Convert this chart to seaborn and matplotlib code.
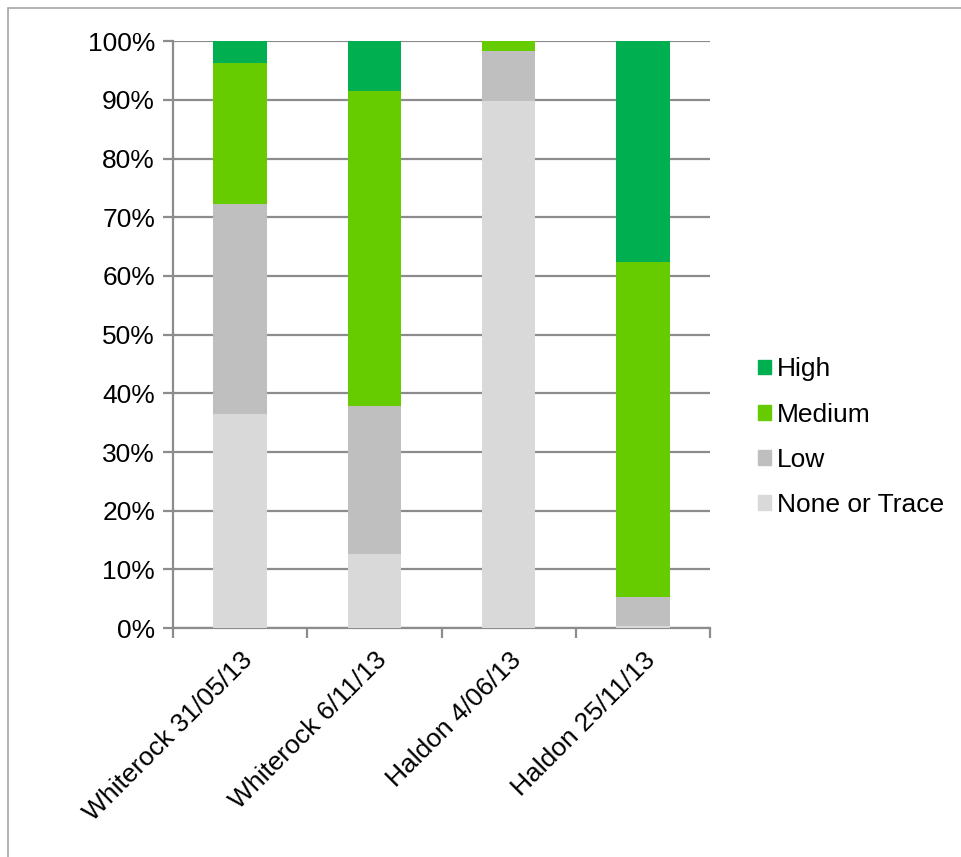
import pandas as pd
import matplotlib.pyplot as plt
import seaborn as sns
from matplotlib.patches import Rectangle, Patch
from matplotlib.ticker import PercentFormatter

# values (percent of each sample)
sites = ['Whiterock 31/05/13', 'Whiterock 6/11/13', 'Haldon 4/06/13', 'Haldon 25/11/13']
none_trace = [36.5, 12.6, 89.8, 0.4]
low = [35.8, 25.2, 8.5, 4.9]
medium = [24.0, 53.7, 1.7, 57.0]
high = [3.7, 8.5, 0.0, 37.7]

levels = ['None or Trace', 'Low', 'Medium', 'High']
colours = {'High': '#00B050', 'Medium': '#66CC00', 'Low': '#BFBFBF', 'None or Trace': '#D9D9D9'}

df = pd.DataFrame({'site': sites, 'None or Trace': none_trace, 'Low': low,
                   'Medium': medium, 'High': high})
# running totals so the bars can be laid over each other, tallest first
cum = df[levels].cumsum(axis=1)
cum['site'] = df['site']

sns.set_style('white')
plt.rcParams['font.family'] = ['Liberation Sans', 'DejaVu Sans']
plt.rcParams['text.color'] = 'black'
plt.rcParams['xtick.labelcolor'] = 'black'
plt.rcParams['ytick.labelcolor'] = 'black'

fig = plt.figure(figsize=(9.62, 8.57), dpi=100)
ax = fig.add_axes([0.18, 0.267, 0.558, 0.685])

for lvl in reversed(levels):
    sns.barplot(data=cum, x='site', y=lvl, color=colours[lvl], width=0.4,
                saturation=1, ax=ax, zorder=3, edgecolor='none')

ax.set_ylim(0, 100)
ax.set_xlim(-0.5, 3.5)
ax.set_yticks(range(0, 101, 10))
ax.yaxis.set_major_formatter(PercentFormatter(decimals=0))
ax.yaxis.grid(True, color='#8C8C8C', linewidth=1.6, zorder=0)
ax.set_axisbelow(True)
ax.set_xlabel('')
ax.set_ylabel('')

for s in ['top', 'right']:
    ax.spines[s].set_visible(False)
for s in ['left', 'bottom']:
    ax.spines[s].set_color('#8C8C8C')
    ax.spines[s].set_linewidth(1.6)

# tick marks between categories, labels under bars
ax.set_xticks([-0.5, 0.5, 1.5, 2.5, 3.5], minor=False)
ax.set_xticklabels([])
ax.set_xticks(range(len(sites)), minor=True)
ax.set_xticklabels(sites, minor=True, rotation=45, ha='right', rotation_mode='anchor',
                   fontsize=19, color='black')
ax.tick_params(axis='x', which='minor', length=0, pad=14)
ax.tick_params(axis='x', which='major', direction='out', length=7, width=1.6, color='#8C8C8C', bottom=True)
ax.tick_params(axis='y', direction='out', length=7, width=1.6, color='#8C8C8C', labelsize=19,
               labelcolor='black', pad=6, left=True)

handles = [Patch(color=colours[l]) for l in ['High', 'Medium', 'Low', 'None or Trace']]
fig.legend(handles, ['High', 'Medium', 'Low', 'None or Trace'], loc='center left',
           bbox_to_anchor=(0.763, 0.49), frameon=False, fontsize=19,
           handlelength=0.49, handleheight=0.49, handletextpad=0.25, labelspacing=0.8)

fig.patches.append(Rectangle((8 / 962, -0.01), 1.0, 1 - 8 / 857 + 0.01,
                             transform=fig.transFigure, fill=False,
                             edgecolor='#A6A6A6', linewidth=1.2))

fig.savefig('out.png', dpi=100)
